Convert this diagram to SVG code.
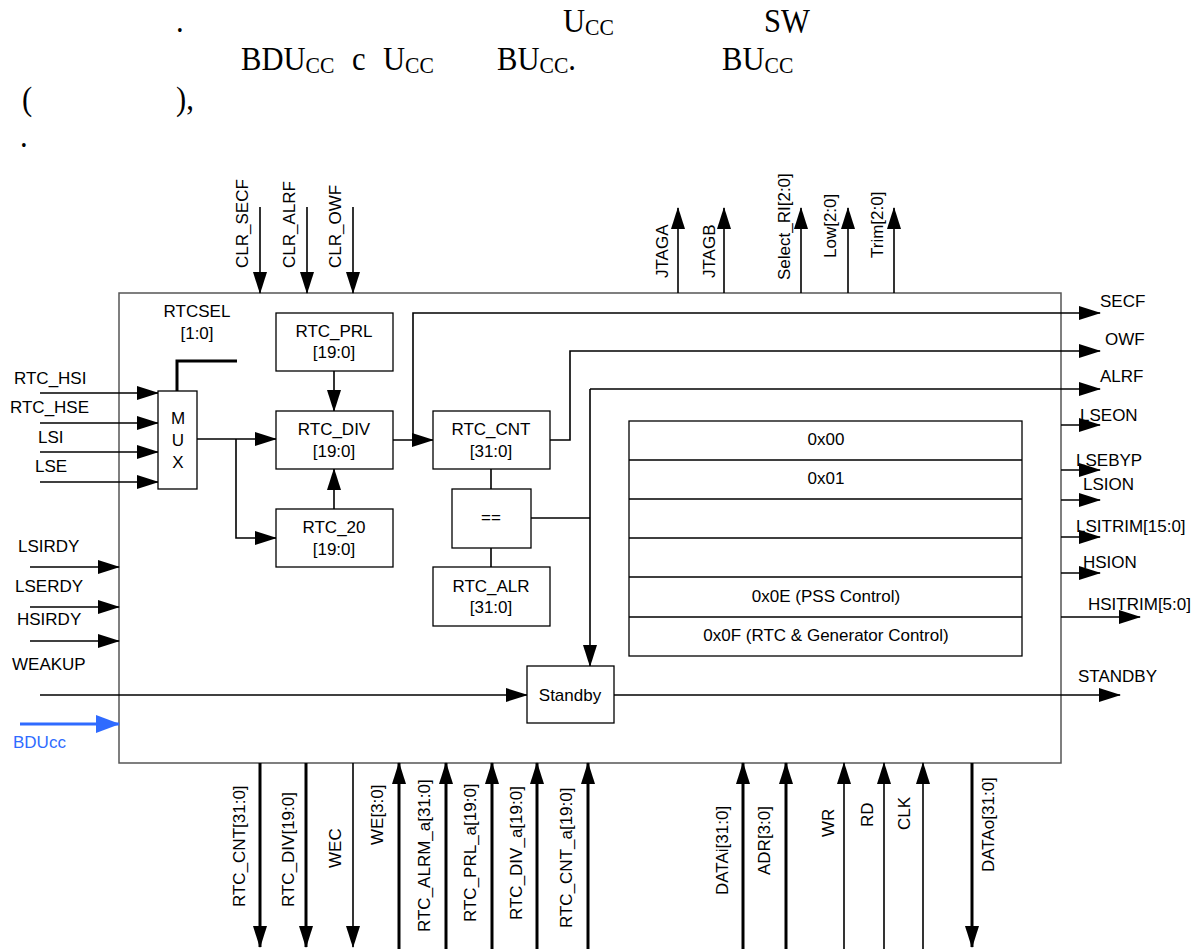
<svg xmlns="http://www.w3.org/2000/svg" width="1204" height="949" viewBox="0 0 1204 949">
<style>
.t{font-family:"Liberation Sans",Arial,sans-serif;font-size:17px;fill:#000}
.c{text-anchor:middle}
.s{font-family:"Liberation Serif","Times New Roman",serif;font-size:34px;fill:#000}
.sb{font-size:24px}
.box{fill:#fff;stroke:#000;stroke-width:1.3}
.w{fill:none;stroke:#000;stroke-width:1.6}
.k{fill:none;stroke:#000;stroke-width:3}
.bl{fill:none;stroke:#2f6bff;stroke-width:3}
</style>
<defs>
<marker id="a" markerUnits="userSpaceOnUse" markerWidth="22" markerHeight="14" refX="21" refY="7" orient="auto"><path d="M0,0 L22,7 L0,14 z" fill="#000"/></marker>
<marker id="ab" markerUnits="userSpaceOnUse" markerWidth="24" markerHeight="18" refX="23" refY="9" orient="auto"><path d="M0,0 L24,9 L0,18 z" fill="#2f6bff"/></marker>
</defs>
<rect width="1204" height="949" fill="#fff"/>
<g id="caption">
<text class="s" transform="translate(176,32) scale(0.9,1)">.</text>
<text class="s" transform="translate(563,32) scale(0.9,1)">U<tspan class="sb" dy="3">CC</tspan></text>
<text class="s" transform="translate(764,32) scale(0.9,1)">SW</text>
<text class="s" transform="translate(241,70) scale(0.9,1)">BDU<tspan class="sb" dy="3">CC</tspan></text>
<text class="s" transform="translate(352,70) scale(0.9,1)">c</text>
<text class="s" transform="translate(383,70) scale(0.9,1)">U<tspan class="sb" dy="3">CC</tspan></text>
<text class="s" transform="translate(497,70) scale(0.9,1)">BU<tspan class="sb" dy="3">CC</tspan><tspan dy="-3">.</tspan></text>
<text class="s" transform="translate(722,70) scale(0.9,1)">BU<tspan class="sb" dy="3">CC</tspan></text>
<text class="s" transform="translate(22,110) scale(0.9,1)">(</text>
<text class="s" transform="translate(176,110) scale(0.9,1)">),</text>
<text class="s" transform="translate(20,147) scale(0.9,1)">.</text>
</g>
<g id="rtc-block">
<rect x="119" y="293" width="942" height="470" fill="none" stroke="#555" stroke-width="1.5"/>
</g>
<g id="connectors">
<path class="w" d="M40,393 H158" marker-end="url(#a)"/>
<path class="w" d="M40,423 H158" marker-end="url(#a)"/>
<path class="w" d="M40,452 H158" marker-end="url(#a)"/>
<path class="w" d="M40,482 H158" marker-end="url(#a)"/>
<path class="w" d="M30,567 H119" marker-end="url(#a)"/>
<path class="w" d="M30,607 H119" marker-end="url(#a)"/>
<path class="w" d="M30,641 H119" marker-end="url(#a)"/>
<path class="bl" d="M20,724 H119" marker-end="url(#ab)"/>
<path class="w" d="M40,695 H527" marker-end="url(#a)"/>
<path class="k" d="M177,391 V361 H237" stroke-width="2.2"/>
<path class="w" d="M197,439 H276" marker-end="url(#a)"/>
<path class="w" d="M236,439 V538 H276" marker-end="url(#a)"/>
<path class="w" d="M334,371 V411" marker-end="url(#a)"/>
<path class="w" d="M334,509 V469" marker-end="url(#a)"/>
<path class="w" d="M393,440 H433" marker-end="url(#a)"/>
<path class="w" d="M413,440 V313 H1100" marker-end="url(#a)"/>
<path class="w" d="M550,440 H570 V351 H1100" marker-end="url(#a)"/>
<path class="w" d="M590,389 H1100" marker-end="url(#a)"/>
<path class="w" d="M590,389 V666" marker-end="url(#a)"/>
<path class="w" d="M531,518 H590"/>
<path class="w" d="M491,469 V489 M491,548 V567"/>
<path class="w" d="M614,695 H1120" marker-end="url(#a)"/>
<path class="w" d="M1061,425 H1100" marker-end="url(#a)"/>
<path class="w" d="M1061,470 H1100" marker-end="url(#a)"/>
<path class="w" d="M1061,500 H1100" marker-end="url(#a)"/>
<path class="w" d="M1061,537 H1100" marker-end="url(#a)"/>
<path class="w" d="M1061,573 H1100" marker-end="url(#a)"/>
<path class="w" d="M1061,617 H1140" marker-end="url(#a)"/>
<path class="w" d="M260,207 V293" marker-end="url(#a)"/>
<path class="w" d="M307,207 V293" marker-end="url(#a)"/>
<path class="w" d="M353,207 V293" marker-end="url(#a)"/>
<path class="w" d="M678,293 V208" marker-end="url(#a)"/>
<path class="w" d="M724,293 V208" marker-end="url(#a)"/>
<path class="w" d="M801,293 V208" marker-end="url(#a)"/>
<path class="w" d="M848,293 V208" marker-end="url(#a)"/>
<path class="w" d="M894,293 V208" marker-end="url(#a)"/>
<path class="k" d="M260,763 V947" marker-end="url(#a)"/>
<path class="k" d="M306,763 V947" marker-end="url(#a)"/>
<path class="w" d="M353,763 V947" marker-end="url(#a)"/>
<path class="k" d="M399,949 V763" marker-end="url(#a)"/>
<path class="k" d="M446,949 V763" marker-end="url(#a)"/>
<path class="k" d="M492,949 V763" marker-end="url(#a)"/>
<path class="k" d="M537,949 V763" marker-end="url(#a)"/>
<path class="k" d="M588,949 V763" marker-end="url(#a)"/>
<path class="k" d="M743,949 V763" marker-end="url(#a)"/>
<path class="k" d="M786,949 V763" marker-end="url(#a)"/>
<path class="w" d="M844,949 V763" marker-end="url(#a)"/>
<path class="w" d="M884,949 V763" marker-end="url(#a)"/>
<path class="w" d="M923,949 V763" marker-end="url(#a)"/>
<path class="k" d="M972,763 V947" marker-end="url(#a)"/>
</g>
<g id="labels">
<text class="t" x="14" y="384">RTC_HSI</text>
<text class="t" x="10" y="413">RTC_HSE</text>
<text class="t" x="38" y="443">LSI</text>
<text class="t" x="35" y="472">LSE</text>
<text class="t" x="18" y="552">LSIRDY</text>
<text class="t" x="15" y="592">LSERDY</text>
<text class="t" x="17" y="625">HSIRDY</text>
<text class="t" x="12" y="670">WEAKUP</text>
<text class="t" x="13" y="748" style="fill:#2f6bff">BDUcc</text>
<text class="t" x="1100" y="307">SECF</text>
<text class="t" x="1105" y="345">OWF</text>
<text class="t" x="1100" y="382">ALRF</text>
<text class="t" x="1080" y="421">LSEON</text>
<text class="t" x="1076" y="466">LSEBYP</text>
<text class="t" x="1083" y="490">LSION</text>
<text class="t" x="1076" y="532">LSITRIM[15:0]</text>
<text class="t" x="1083" y="568">HSION</text>
<text class="t" x="1088" y="610">HSITRIM[5:0]</text>
<text class="t" x="1078" y="682">STANDBY</text>
<text class="t c" x="197" y="317">RTCSEL</text>
<text class="t c" x="197" y="339">[1:0]</text>
<text class="t" transform="translate(248,268) rotate(-90)">CLR_SECF</text>
<text class="t" transform="translate(295,268) rotate(-90)">CLR_ALRF</text>
<text class="t" transform="translate(341,268) rotate(-90)">CLR_OWF</text>
<text class="t" transform="translate(668,278) rotate(-90)">JTAGA</text>
<text class="t" transform="translate(715,278) rotate(-90)">JTAGB</text>
<text class="t" transform="translate(790,280) rotate(-90)">Select_RI[2:0]</text>
<text class="t" transform="translate(836,258) rotate(-90)">Low[2:0]</text>
<text class="t" transform="translate(883,258) rotate(-90)">Trim[2:0]</text>
<text class="t" transform="translate(245,907) rotate(-90)">RTC_CNT[31:0]</text>
<text class="t" transform="translate(294,907) rotate(-90)">RTC_DIV[19:0]</text>
<text class="t" transform="translate(341,868) rotate(-90)">WEC</text>
<text class="t" transform="translate(383,845) rotate(-90)">WE[3:0]</text>
<text class="t" transform="translate(430,932) rotate(-90)">RTC_ALRM_a[31:0]</text>
<text class="t" transform="translate(476,922) rotate(-90)">RTC_PRL_a[19:0]</text>
<text class="t" transform="translate(522,920) rotate(-90)">RTC_DIV_a[19:0]</text>
<text class="t" transform="translate(572,928) rotate(-90)">RTC_CNT_a[19:0]</text>
<text class="t" transform="translate(728,895) rotate(-90)">DATAi[31:0]</text>
<text class="t" transform="translate(770,875) rotate(-90)">ADR[3:0]</text>
<text class="t" transform="translate(834,837) rotate(-90)">WR</text>
<text class="t" transform="translate(873,827) rotate(-90)">RD</text>
<text class="t" transform="translate(910,830) rotate(-90)">CLK</text>
<text class="t" transform="translate(994,872) rotate(-90)">DATAo[31:0]</text>
</g>
<g id="mux">
<rect class="box" x="158" y="391" width="39" height="98" stroke="#555"/>
<text class="t c" x="178" y="424">M</text>
<text class="t c" x="178" y="446">U</text>
<text class="t c" x="178" y="468">X</text>
</g>
<g id="rtc-prl">
<rect class="box" x="276" y="313" width="117" height="58"/>
<text class="t c" x="334" y="337">RTC_PRL</text>
<text class="t c" x="334" y="358">[19:0]</text>
</g>
<g id="rtc-div">
<rect class="box" x="276" y="411" width="117" height="58"/>
<text class="t c" x="334" y="435">RTC_DIV</text>
<text class="t c" x="334" y="457">[19:0]</text>
</g>
<g id="rtc-20">
<rect class="box" x="276" y="509" width="117" height="58"/>
<text class="t c" x="334" y="533">RTC_20</text>
<text class="t c" x="334" y="555">[19:0]</text>
</g>
<g id="rtc-cnt">
<rect class="box" x="433" y="411" width="117" height="58"/>
<text class="t c" x="491" y="435">RTC_CNT</text>
<text class="t c" x="491" y="457">[31:0]</text>
</g>
<g id="compare">
<rect class="box" x="452" y="489" width="79" height="59" stroke="#444"/>
<text class="t c" x="491" y="523">==</text>
</g>
<g id="rtc-alr">
<rect class="box" x="433" y="567" width="117" height="59"/>
<text class="t c" x="491" y="592">RTC_ALR</text>
<text class="t c" x="491" y="613">[31:0]</text>
</g>
<g id="registers">
<rect class="box" x="629" y="421" width="393" height="235" stroke="#444"/>
<path class="w" d="M629,460 H1022 M629,499 H1022 M629,538 H1022 M629,577 H1022 M629,617 H1022" stroke-width="1.3"/>
<text class="t c" x="826" y="445">0x00</text>
<text class="t c" x="826" y="484">0x01</text>
<text class="t c" x="826" y="602">0x0E (PSS Control)</text>
<text class="t c" x="826" y="641">0x0F (RTC &amp; Generator Control)</text>
</g>
<g id="standby">
<rect class="box" x="527" y="666" width="87" height="57"/>
<text class="t c" x="570" y="701">Standby</text>
</g>
</svg>
